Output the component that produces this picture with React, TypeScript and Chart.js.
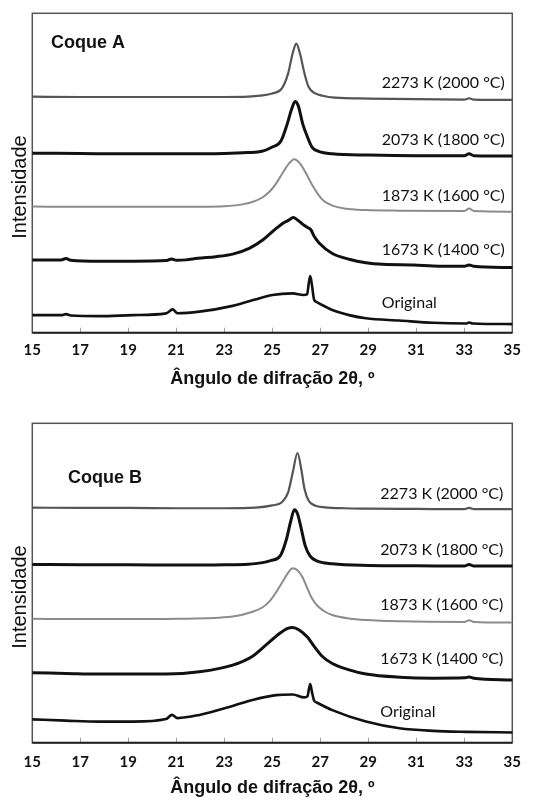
import React, { useEffect, useRef } from "react";
import { Chart, registerables } from "chart.js";

Chart.register(...registerables);

// ---------- shared axis / text data ----------
const xTicks = [15, 17, 19, 21, 23, 25, 27, 29, 31, 33, 35];
const seriesLabels = ["2273 K (2000 °C)", "2073 K (1800 °C)", "1873 K (1600 °C)", "1673 K (1400 °C)", "Original"];
const xTitle = "Ângulo de difração 2θ, º";
const yTitle = "Intensidade";

// ---------- Coque A (stacked intensities, arbitrary units 0-100) ----------
const A_2273_x = [15, 17, 19, 21, 23, 24, 24.5, 25.0, 25.4, 25.66, 25.85, 26.0, 26.15, 26.34, 26.51, 26.77, 27.1, 27.6, 29, 31, 33, 33.2, 33.4, 35];
const A_2273_y = [73.9, 73.8, 73.8, 73.8, 73.8, 73.9, 74.2, 74.9, 76.5, 81.2, 87.5, 90.5, 87.5, 81.2, 77.0, 75.0, 74.2, 73.6, 73.3, 73.1, 73.0, 73.4, 73.0, 72.9];

const A_2073_x = [15, 17, 19, 21, 23, 24, 24.57, 24.96, 25.36, 25.62, 25.81, 25.95, 26.08, 26.27, 26.47, 26.66, 26.93, 27.5, 29, 31, 33, 33.2, 33.4, 35];
const A_2073_y = [56.2, 56.1, 56.0, 56.0, 56.1, 56.4, 56.8, 58.0, 60.0, 65.3, 70.1, 72.4, 71.1, 65.3, 61.2, 58.0, 56.8, 56.0, 55.6, 55.4, 55.4, 56.0, 55.4, 55.3];

const A_1873_x = [15, 17, 19, 21, 23, 23.7, 24.2, 24.6, 24.9, 25.15, 25.43, 25.7, 25.92, 26.15, 26.42, 26.65, 26.9, 27.15, 27.5, 28.0, 28.9, 30.3, 33, 33.2, 33.4, 35];
const A_1873_y = [39.5, 39.4, 39.4, 39.4, 39.6, 40.1, 41.0, 42.4, 44.3, 46.6, 50.0, 53.0, 54.3, 53.0, 49.7, 46.4, 43.4, 41.2, 39.8, 38.9, 38.4, 38.2, 38.1, 38.9, 38.1, 37.9];

const A_1673_x = [15, 16.2, 16.4, 16.6, 17.8, 19.2, 20.6, 20.8, 21.0, 21.4, 21.9, 22.65, 23.35, 24.04, 24.6, 25.0, 25.43, 25.7, 25.87, 26.05, 26.26, 26.47, 26.6, 26.75, 26.96, 27.5, 28.2, 28.9, 29.6, 30.9, 31.7, 33.0, 33.2, 33.4, 35];
const A_1673_y = [22.8, 22.8, 23.2, 22.7, 22.4, 22.4, 22.6, 23.1, 22.7, 22.8, 23.3, 23.8, 24.6, 26.4, 29.0, 31.6, 34.2, 35.3, 36.1, 35.3, 34.0, 32.9, 32.3, 30.1, 28.0, 24.8, 23.0, 21.9, 21.4, 21.2, 20.9, 20.8, 21.2, 20.8, 20.4];

const A_orig_x = [15, 16.2, 16.4, 16.6, 17.8, 19.2, 20.57, 20.85, 21.05, 21.96, 23.35, 24.2, 25.0, 25.85, 26.3, 26.45, 26.52, 26.58, 26.65, 26.74, 26.85, 27.2, 27.5, 28.2, 28.9, 30.3, 31.7, 33.1, 33.2, 33.35, 35];
const A_orig_y = [5.5, 5.5, 5.8, 5.4, 5.2, 5.5, 6.05, 7.3, 6.1, 6.6, 8.4, 10.2, 11.8, 12.3, 11.8, 12.0, 15.5, 17.7, 15.0, 10.4, 9.6, 8.2, 7.1, 5.5, 4.5, 3.8, 3.1, 2.9, 3.2, 2.9, 2.7];

// ---------- Coque B ----------
const B_2273_x = [15, 17, 19, 21, 23, 24.3, 25.0, 25.4, 25.66, 25.85, 26.05, 26.21, 26.34, 26.51, 26.77, 27.2, 28, 29, 31, 33, 33.2, 33.4, 35];
const B_2273_y = [73.6, 73.5, 73.5, 73.4, 73.4, 73.6, 74.3, 75.3, 78.4, 84.5, 90.7, 85.5, 79.5, 75.8, 74.3, 73.7, 73.4, 73.3, 73.2, 73.1, 73.5, 73.1, 73.1];

const B_2073_x = [15, 17, 19, 21, 23, 24, 24.54, 24.93, 25.33, 25.59, 25.76, 25.92, 26.05, 26.18, 26.37, 26.57, 26.83, 27.5, 29, 31, 33, 33.2, 33.4, 35];
const B_2073_y = [55.8, 55.7, 55.7, 55.6, 55.7, 55.9, 56.3, 57.0, 58.5, 63.7, 69.1, 72.9, 71.7, 67.9, 61.7, 58.5, 57.0, 56.0, 55.5, 55.4, 55.3, 55.8, 55.3, 55.3];

const B_1873_x = [15, 17, 19, 21, 23.35, 24.18, 24.6, 24.9, 25.15, 25.43, 25.64, 25.85, 26.05, 26.26, 26.45, 26.65, 26.9, 27.2, 27.5, 28.2, 28.9, 30.3, 33.0, 33.2, 33.4, 35];
const B_1873_y = [38.8, 38.7, 38.7, 38.8, 39.5, 41.0, 42.4, 44.4, 47.0, 50.4, 53.0, 54.6, 54.0, 51.8, 48.5, 45.2, 42.7, 41.0, 40.0, 38.9, 38.4, 38.0, 37.8, 38.3, 37.8, 37.6];

const B_1673_x = [15, 16.4, 17.8, 20.57, 21.96, 23.35, 24.18, 24.74, 25.3, 25.64, 25.85, 26.12, 26.47, 26.75, 27.1, 27.5, 28.2, 28.9, 30.3, 31.7, 33.0, 33.2, 33.4, 35];
const B_1673_y = [21.9, 21.7, 21.5, 21.5, 22.2, 24.3, 27.1, 30.6, 34.2, 35.8, 36.1, 35.3, 33.0, 30.1, 26.9, 24.8, 22.8, 21.5, 20.5, 20.2, 20.3, 20.6, 20.2, 19.6];

const B_orig_x = [15, 16.4, 17.8, 19.2, 20.57, 20.82, 21.05, 21.96, 23.35, 24.18, 25.15, 25.85, 26.33, 26.47, 26.52, 26.58, 26.65, 26.74, 26.85, 27.5, 28.9, 30.3, 31.7, 33.1, 35];
const B_orig_y = [7.3, 6.9, 6.6, 6.6, 7.4, 8.7, 7.7, 8.7, 11.5, 13.4, 14.9, 15.1, 14.2, 14.6, 16.5, 18.4, 16.0, 13.2, 12.6, 10.2, 6.6, 4.5, 3.7, 3.4, 3.2];

// ---------- styles ----------
const lineColors = ["#555555", "#111111", "#8c8c8c", "#111111", "#111111"];
const lineWidths = [2.2, 3, 2, 3, 2.6];

type Panel = {
  title: string;
  xs: number[][];
  ys: number[][];
  titleAt: [number, number];
  labelAt: [number, number][];
  top: number;
  height: number;
  padTop: number;
  axisHeight: number;
  tickPad: number;
  titlePadBottom: number;
};

const panels: Panel[] = [
  {
    title: "Coque A",
    xs: [A_2273_x, A_2073_x, A_1873_x, A_1673_x, A_orig_x],
    ys: [A_2273_y, A_2073_y, A_1873_y, A_1673_y, A_orig_y],
    titleAt: [15.78, 90.8],
    labelAt: [[29.56, 78.3], [29.56, 60.5], [29.56, 43.0], [29.56, 25.8], [29.56, 9.3]],
    top: 0,
    height: 400,
    padTop: 13.3,
    axisHeight: 67.3,
    tickPad: 8,
    titlePadBottom: 10,
  },
  {
    title: "Coque B",
    xs: [B_2273_x, B_2073_x, B_1873_x, B_1673_x, B_orig_x],
    ys: [B_2273_y, B_2073_y, B_1873_y, B_1673_y, B_orig_y],
    titleAt: [16.49, 83.0],
    labelAt: [[29.5, 78.0], [29.5, 60.5], [29.5, 43.3], [29.5, 26.2], [29.5, 9.6]],
    top: 400,
    height: 405,
    padTop: 23.3,
    axisHeight: 62.3,
    tickPad: 10,
    titlePadBottom: 6,
  },
];

function PanelChart({ p }: { p: Panel }) {
  const ref = useRef<HTMLCanvasElement | null>(null);
  useEffect(() => {
    if (!ref.current) return;
    const decor = {
      id: "decor",
      beforeDatasetsDraw(chart: any) {
        const { ctx, chartArea: a, scales } = chart;
        const x = scales.x;
        ctx.save();
        ctx.strokeStyle = "#a0a0a0";
        ctx.lineWidth = 1;
        for (const t of xTicks) {
          if (t === xTicks[0] || t === xTicks[xTicks.length - 1]) continue;
          const px = Math.round(x.getPixelForValue(t)) + 0.5;
          ctx.beginPath();
          ctx.moveTo(px, a.bottom);
          ctx.lineTo(px, a.bottom - 5);
          ctx.stroke();
        }
        ctx.strokeStyle = "#555555";
        ctx.lineWidth = 1.5;
        ctx.strokeRect(a.left, a.top, a.right - a.left, a.bottom - a.top);
        ctx.strokeStyle = "#222222";
        ctx.lineWidth = 2;
        ctx.beginPath();
        ctx.moveTo(a.left, a.bottom);
        ctx.lineTo(a.right, a.bottom);
        ctx.stroke();
        ctx.restore();
      },
      afterDatasetsDraw(chart: any) {
        const { ctx, scales } = chart;
        const x = scales.x;
        const y = scales.y;
        ctx.save();
        ctx.fillStyle = "#111111";
        ctx.textBaseline = "middle";
        ctx.textAlign = "left";
        ctx.font = "bold 18px 'Liberation Sans', Arial, sans-serif";
        ctx.fillText(p.title, x.getPixelForValue(p.titleAt[0]), y.getPixelForValue(p.titleAt[1]));
        ctx.font = "16px Lato, 'Open Sans', sans-serif";
        seriesLabels.forEach((lab, i) => {
          const [lx, ly] = p.labelAt[i];
          ctx.fillText(lab, x.getPixelForValue(lx), y.getPixelForValue(ly));
        });
        // y-axis title
        ctx.translate(20, y.getPixelForValue(45.6));
        ctx.rotate(-Math.PI / 2);
        ctx.textAlign = "center";
        ctx.font = "20px 'Liberation Sans', Arial, sans-serif";
        ctx.fillText(yTitle, 0, 0);
        ctx.restore();
      },
    };

    const chart = new Chart(ref.current, {
      type: "line",
      data: {
        datasets: p.xs.map((xs, i) => ({
          label: seriesLabels[i],
          data: xs.map((xv, j) => ({ x: xv, y: p.ys[i][j] })),
          borderColor: lineColors[i],
          borderWidth: lineWidths[i],
          pointRadius: 0,
          fill: false,
          cubicInterpolationMode: "monotone" as const,
          borderJoinStyle: "round" as const,
          borderCapStyle: "round" as const,
        })),
      },
      options: {
        animation: false,
        responsive: false,
        maintainAspectRatio: false,
        devicePixelRatio: 1,
        layout: { padding: { top: p.padTop, left: 32.3, right: 32.7, bottom: 0 } },
        plugins: { legend: { display: false }, tooltip: { enabled: false } },
        scales: {
          x: {
            type: "linear",
            min: 15,
            max: 35,
            afterBuildTicks: (s: any) => {
              s.ticks = xTicks.map((v) => ({ value: v }));
            },
            afterFit: (s: any) => {
              s.height = p.axisHeight;
            },
            grid: { display: false, drawTicks: false },
            border: { display: false },
            ticks: {
              padding: p.tickPad,
              color: "#111111",
              font: { family: "Lato, 'Open Sans', sans-serif", size: 15, weight: "bold" },
              maxRotation: 0,
              autoSkip: false,
            },
            title: {
              display: true,
              text: xTitle,
              color: "#111111",
              font: { family: "'Liberation Sans', Arial, sans-serif", size: 18, weight: "bold" },
              padding: { top: 0, bottom: p.titlePadBottom },
            },
          },
          y: {
            type: "linear",
            min: 0,
            max: 100,
            display: false,
          },
        },
      },
      plugins: [decor],
    } as any);
    return () => chart.destroy();
  }, [p]);

  return (
    <div style={{ position: "absolute", left: 0, top: p.top, width: 545, height: p.height }}>
      <canvas ref={ref} width={545} height={p.height} style={{ display: "block", width: 545, height: p.height }} />
    </div>
  );
}

export default function App() {
  return (
    <div style={{ position: "fixed", left: 0, top: 0, width: 545, height: 805, background: "#ffffff" }}>
      {panels.map((p) => (
        <PanelChart key={p.title} p={p} />
      ))}
    </div>
  );
}
